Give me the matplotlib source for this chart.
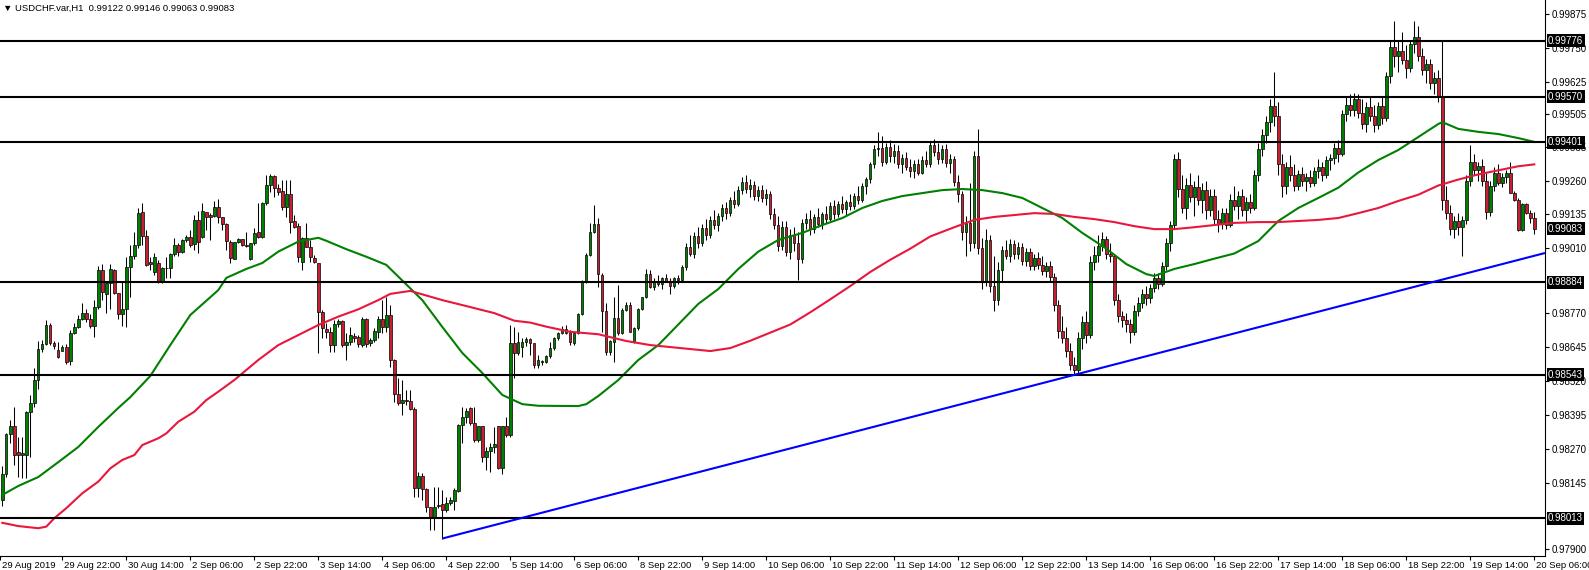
import matplotlib
matplotlib.use("Agg")
import matplotlib.pyplot as plt
import matplotlib.transforms as mtransforms
import numpy as np

plt.rcParams["font.family"] = ["Liberation Sans", "DejaVu Sans"]

# USDCHF H1 candles, prices in pips (0.0001), one line = 16 bars
OPEN = [
    9808.3, 9817.6, 9832.3, 9835.4, 9825.7, 9824.7, 9824.7, 9840.6, 9844.1, 9852.4, 9863.7, 9865.7, 9872.7, 9866.2, 9863.5, 9863.3,
    9864.6, 9859.5, 9869.6, 9871.8, 9874.9, 9877.0, 9875.1, 9872.3, 9879.4, 9893.0, 9884.0, 9888.1, 9893.0, 9884.7, 9876.6, 9878.6,
    9894.0, 9898.3, 9902.2, 9914.3, 9905.7, 9896.0, 9892.4, 9895.5, 9888.7, 9893.6, 9893.6, 9898.9, 9902.2, 9899.8, 9904.1, 9905.1,
    9902.5, 9911.5, 9905.3, 9914.3, 9913.3, 9913.1, 9916.1, 9912.4, 9909.9, 9903.2, 9897.1, 9903.2, 9904.3, 9902.2, 9896.9, 9902.8,
    9907.1, 9905.3, 9917.6, 9924.4, 9927.7, 9923.1, 9922.2, 9916.1, 9921.1, 9911.1, 9909.2, 9896.1, 9904.7, 9901.6, 9897.6, 9895.5,
    9877.6, 9871.2, 9870.3, 9865.3, 9872.9, 9874.3, 9865.3, 9866.3, 9868.8, 9868.4, 9865.3, 9874.8, 9865.9, 9867.2, 9870.3, 9875.1,
    9872.1, 9876.4, 9859.8, 9847.1, 9843.8, 9845.0, 9844.6, 9841.6, 9812.5, 9817.0, 9812.0, 9805.6, 9801.3, 9806.4, 9806.6, 9804.4,
    9806.9, 9807.8, 9811.6, 9835.8, 9838.6, 9841.9, 9836.4, 9830.2, 9835.4, 9824.1, 9826.2, 9827.8, 9835.4, 9819.8, 9835.4, 9832.1,
    9866.0, 9862.2, 9864.5, 9866.6, 9867.6, 9866.0, 9858.0, 9859.0, 9859.0, 9861.1, 9864.1, 9867.8, 9869.7, 9871.3, 9870.3, 9866.0,
    9869.7, 9876.7, 9888.7, 9898.6, 9906.9, 9909.9, 9891.2, 9877.9, 9862.7, 9866.6, 9875.2, 9869.7, 9878.3, 9880.1, 9866.3, 9871.5,
    9878.6, 9882.9, 9891.4, 9886.9, 9889.0, 9888.0, 9890.0, 9889.0, 9887.0, 9890.0, 9889.5, 9894.0, 9901.5, 9899.0, 9905.5, 9903.0,
    9908.5, 9906.0, 9911.5, 9909.5, 9913.0, 9916.0, 9914.0, 9919.0, 9917.5, 9922.5, 9925.5, 9923.0, 9924.5, 9920.5, 9922.5, 9919.5,
    9921.0, 9913.5, 9909.5, 9902.0, 9909.0, 9899.5, 9906.0, 9903.0, 9897.0, 9910.5, 9912.0, 9908.0, 9912.5, 9910.0, 9913.5, 9912.0,
    9916.5, 9913.5, 9917.5, 9915.5, 9918.0, 9916.5, 9920.5, 9919.0, 9924.0, 9926.5, 9932.0, 9937.5, 9938.0, 9933.0, 9938.5, 9935.0,
    9937.0, 9932.0, 9934.5, 9931.0, 9929.5, 9932.0, 9929.0, 9933.5, 9932.0, 9939.0, 9936.5, 9934.0, 9937.5, 9932.5, 9934.0, 9925.5,
    9921.0, 9907.0, 9910.5, 9903.0, 9935.0, 9901.0, 9889.0, 9904.0, 9887.0, 9882.0, 9893.0, 9900.5, 9898.0, 9902.5, 9899.0, 9901.5,
    9896.5, 9899.5, 9894.5, 9897.5, 9895.0, 9892.5, 9894.5, 9890.5, 9880.0, 9870.5, 9868.0, 9863.0, 9858.0, 9856.0, 9868.0, 9874.0,
    9869.0, 9896.0, 9898.5, 9902.0, 9904.5, 9899.0, 9898.0, 9882.0, 9876.0, 9874.5, 9873.0, 9870.0, 9878.0, 9881.0, 9884.0, 9882.5,
    9886.5, 9890.0, 9888.0, 9894.5, 9903.0, 9909.5, 9934.0, 9923.0, 9916.0, 9924.5, 9920.0, 9923.5, 9919.0, 9922.5, 9915.0, 9920.5,
    9912.0, 9910.0, 9914.0, 9909.5, 9919.0, 9916.5, 9920.5, 9915.0, 9918.0, 9916.0, 9928.0, 9937.5, 9943.0, 9947.5, 9953.5, 9950.0,
    9932.0, 9924.0, 9931.0, 9928.0, 9924.0, 9928.5, 9926.0, 9927.5, 9925.0, 9929.5, 9931.0, 9928.0, 9933.5, 9934.5, 9938.0, 9936.0,
    9950.5, 9954.0, 9952.0, 9956.0, 9951.0, 9947.0, 9953.0, 9950.0, 9946.5, 9953.5, 9949.0, 9964.5, 9975.5, 9972.0, 9974.0, 9970.5,
    9967.5, 9976.5, 9979.0, 9972.0, 9967.0, 9969.0, 9962.0, 9964.0, 9957.0, 9919.0, 9914.0, 9908.0, 9911.0, 9909.0, 9911.5, 9926.0,
    9933.0, 9930.0, 9931.5, 9926.0, 9914.5, 9924.0, 9929.0, 9925.0, 9927.5, 9928.7, 9921.6, 9918.9, 9907.8, 9917.4, 9914.0, 9912.2,
]
HIGH = [
    9820.6, 9832.9, 9837.6, 9842.3, 9831.2, 9831.2, 9841.0, 9846.8, 9856.7, 9866.9, 9867.1, 9874.5, 9873.5, 9866.9, 9866.5, 9865.3,
    9865.7, 9870.8, 9873.5, 9876.4, 9880.7, 9878.6, 9876.7, 9881.9, 9894.5, 9895.2, 9889.0, 9895.2, 9893.4, 9884.7, 9888.4, 9897.7,
    9902.2, 9907.2, 9915.8, 9917.6, 9907.8, 9897.9, 9899.2, 9896.7, 9894.2, 9897.9, 9899.4, 9904.7, 9902.9, 9904.5, 9905.9, 9907.8,
    9913.3, 9914.9, 9917.6, 9914.5, 9913.9, 9918.6, 9919.2, 9912.7, 9910.2, 9904.1, 9903.5, 9904.9, 9904.3, 9907.2, 9902.9, 9908.4,
    9917.6, 9918.2, 9928.1, 9928.4, 9928.0, 9924.7, 9926.2, 9926.2, 9926.2, 9913.3, 9910.2, 9905.3, 9910.2, 9904.1, 9898.5, 9895.5,
    9878.2, 9873.3, 9872.1, 9874.6, 9874.8, 9874.6, 9869.6, 9872.1, 9869.8, 9869.0, 9875.5, 9875.2, 9868.0, 9871.5, 9876.0, 9881.9,
    9883.2, 9880.1, 9860.0, 9853.0, 9852.4, 9848.7, 9848.7, 9842.5, 9818.6, 9818.0, 9812.4, 9805.6, 9813.0, 9813.0, 9811.8, 9809.3,
    9809.3, 9812.4, 9836.0, 9842.5, 9841.9, 9842.3, 9842.5, 9835.5, 9835.5, 9827.8, 9829.0, 9835.2, 9835.5, 9835.5, 9838.8, 9872.7,
    9872.0, 9870.2, 9868.0, 9868.4, 9867.8, 9866.0, 9861.7, 9859.8, 9861.7, 9866.6, 9868.4, 9870.3, 9872.5, 9872.7, 9870.9, 9870.3,
    9877.0, 9889.3, 9899.2, 9910.3, 9917.0, 9912.1, 9891.8, 9880.7, 9867.2, 9883.2, 9887.5, 9878.9, 9881.1, 9881.3, 9872.0, 9879.1,
    9883.2, 9893.4, 9893.0, 9890.0, 9891.0, 9890.5, 9891.5, 9890.0, 9890.5, 9891.0, 9895.0, 9903.0, 9906.0, 9907.0, 9909.0, 9910.0,
    9912.0, 9913.0, 9915.0, 9914.0, 9917.5, 9918.0, 9920.0, 9922.0, 9924.0, 9927.5, 9928.0, 9926.5, 9926.0, 9924.0, 9924.5, 9923.0,
    9922.0, 9916.0, 9913.0, 9911.0, 9911.0, 9908.0, 9909.0, 9907.0, 9912.0, 9914.0, 9915.0, 9913.5, 9916.0, 9914.5, 9916.5, 9918.0,
    9919.0, 9918.5, 9920.5, 9919.0, 9921.0, 9921.5, 9924.0, 9925.0, 9927.5, 9933.0, 9939.0, 9944.0, 9942.5, 9940.0, 9941.0, 9939.5,
    9939.0, 9936.0, 9936.5, 9934.0, 9933.5, 9934.0, 9935.0, 9937.0, 9940.5, 9941.5, 9940.0, 9939.0, 9939.5, 9936.0, 9935.0, 9928.0,
    9922.0, 9913.0, 9925.0, 9937.0, 9945.0, 9905.0, 9908.0, 9906.0, 9898.0, 9896.0, 9902.0, 9904.0, 9904.5, 9904.0, 9903.5, 9903.0,
    9901.0, 9901.0, 9899.0, 9899.5, 9898.0, 9896.0, 9896.5, 9892.0, 9882.0, 9876.0, 9872.0, 9866.0, 9861.0, 9870.0, 9876.0, 9878.0,
    9898.0, 9902.0, 9906.0, 9907.0, 9905.5, 9903.0, 9899.0, 9884.0, 9878.0, 9877.0, 9875.0, 9880.0, 9883.0, 9886.0, 9887.0, 9888.0,
    9892.0, 9892.0, 9896.0, 9905.0, 9911.0, 9936.0, 9936.5, 9928.0, 9927.0, 9929.0, 9926.0, 9928.0, 9925.0, 9926.0, 9923.0, 9923.0,
    9915.0, 9916.0, 9916.0, 9921.0, 9924.0, 9922.0, 9923.0, 9920.0, 9921.0, 9930.0, 9940.0, 9945.0, 9950.0, 9956.0, 9966.0, 9955.0,
    9936.0, 9933.0, 9935.5, 9932.0, 9930.0, 9931.0, 9929.0, 9930.0, 9931.0, 9934.0, 9933.0, 9935.0, 9936.0, 9940.0, 9941.0, 9952.0,
    9957.0, 9958.0, 9958.5, 9958.0, 9956.0, 9955.0, 9957.0, 9954.0, 9955.0, 9957.0, 9966.0, 9978.0, 9985.0, 9978.0, 9981.0, 9976.0,
    9978.0, 9985.0, 9983.0, 9975.0, 9971.0, 9971.0, 9966.0, 9967.0, 9978.0, 9924.0, 9917.0, 9913.0, 9914.0, 9913.0, 9928.0, 9939.0,
    9936.0, 9933.0, 9934.0, 9929.0, 9926.0, 9931.0, 9932.0, 9929.0, 9930.0, 9933.0, 9922.0, 9919.5, 9917.7, 9917.7, 9915.0, 9914.6,
]
LOW = [
    9806.0, 9816.7, 9829.0, 9821.0, 9816.7, 9816.4, 9816.1, 9824.1, 9842.5, 9849.1, 9862.8, 9865.3, 9865.3, 9863.9, 9860.5, 9863.1,
    9858.5, 9857.9, 9869.4, 9871.5, 9874.5, 9873.9, 9871.7, 9868.1, 9878.8, 9881.9, 9877.0, 9878.8, 9884.0, 9875.1, 9872.3, 9872.1,
    9882.9, 9897.0, 9901.0, 9902.2, 9894.5, 9893.0, 9891.2, 9888.1, 9888.1, 9889.9, 9890.0, 9898.0, 9898.0, 9899.2, 9903.5, 9901.6,
    9900.4, 9899.2, 9904.7, 9907.8, 9904.1, 9912.4, 9910.2, 9907.8, 9900.4, 9895.5, 9897.0, 9902.9, 9901.9, 9901.6, 9896.7, 9902.2,
    9904.7, 9904.7, 9917.0, 9921.9, 9920.1, 9920.7, 9915.1, 9912.7, 9906.5, 9908.4, 9896.1, 9893.0, 9901.4, 9896.1, 9895.5, 9862.3,
    9867.8, 9867.8, 9862.9, 9862.9, 9872.1, 9864.7, 9859.8, 9865.5, 9866.5, 9864.7, 9864.7, 9864.5, 9864.9, 9866.5, 9868.0, 9869.6,
    9870.3, 9857.3, 9844.4, 9843.2, 9839.5, 9843.2, 9841.3, 9809.3, 9809.3, 9808.1, 9803.8, 9797.0, 9797.0, 9805.0, 9793.9, 9803.8,
    9806.3, 9804.4, 9811.2, 9829.0, 9836.4, 9835.8, 9829.6, 9829.6, 9822.2, 9819.2, 9818.6, 9825.3, 9819.5, 9817.9, 9831.5, 9831.5,
    9853.0, 9861.5, 9861.0, 9865.0, 9861.7, 9857.0, 9857.0, 9858.0, 9858.6, 9860.4, 9863.5, 9867.2, 9869.3, 9869.3, 9865.4, 9865.4,
    9869.3, 9876.4, 9888.1, 9898.0, 9906.6, 9886.9, 9870.3, 9861.7, 9861.7, 9859.2, 9869.1, 9869.3, 9877.9, 9870.3, 9866.0, 9871.0,
    9878.3, 9882.6, 9886.3, 9885.5, 9887.0, 9886.0, 9888.5, 9884.0, 9886.5, 9888.0, 9889.0, 9893.0, 9898.0, 9897.5, 9901.0, 9902.0,
    9904.0, 9905.0, 9908.0, 9907.5, 9911.0, 9912.0, 9913.0, 9916.0, 9916.5, 9921.0, 9921.5, 9920.0, 9919.0, 9918.5, 9918.0, 9917.0,
    9912.0, 9908.0, 9900.0, 9900.5, 9898.0, 9897.0, 9900.0, 9889.5, 9895.5, 9908.0, 9906.0, 9906.5, 9909.0, 9908.0, 9910.5, 9911.0,
    9912.0, 9912.5, 9914.0, 9913.0, 9915.0, 9915.5, 9917.5, 9918.0, 9921.0, 9925.0, 9930.5, 9935.0, 9931.5, 9932.0, 9933.0, 9932.5,
    9930.5, 9929.0, 9930.0, 9927.5, 9927.0, 9928.0, 9928.5, 9931.0, 9931.0, 9935.0, 9932.0, 9932.5, 9931.0, 9929.0, 9924.0, 9918.0,
    9904.0, 9898.0, 9900.0, 9901.0, 9899.0, 9886.0, 9887.0, 9885.0, 9878.0, 9880.0, 9889.0, 9897.0, 9896.0, 9897.0, 9897.0, 9895.0,
    9894.5, 9893.0, 9893.0, 9893.5, 9891.0, 9890.5, 9889.0, 9878.0, 9868.0, 9866.0, 9861.0, 9856.0, 9854.3, 9855.0, 9864.0, 9866.0,
    9868.0, 9893.0, 9896.0, 9900.0, 9897.0, 9896.0, 9880.0, 9874.0, 9872.0, 9870.0, 9866.0, 9869.0, 9876.0, 9879.0, 9880.0, 9881.0,
    9885.0, 9886.0, 9887.0, 9893.0, 9900.0, 9908.0, 9920.0, 9914.0, 9912.0, 9918.0, 9913.0, 9917.0, 9914.0, 9912.0, 9913.0, 9910.0,
    9907.0, 9908.0, 9908.0, 9909.0, 9915.0, 9912.0, 9913.0, 9911.0, 9914.0, 9915.0, 9926.0, 9935.0, 9940.0, 9944.0, 9946.0, 9928.0,
    9920.0, 9921.0, 9926.0, 9922.0, 9922.5, 9924.0, 9922.0, 9923.5, 9924.0, 9927.0, 9926.0, 9927.0, 9930.0, 9932.0, 9933.0, 9935.0,
    9948.0, 9950.0, 9950.0, 9949.0, 9945.0, 9944.0, 9948.0, 9944.0, 9945.0, 9947.0, 9948.0, 9962.0, 9968.0, 9966.0, 9969.0, 9964.0,
    9966.0, 9973.0, 9970.0, 9965.0, 9962.0, 9960.0, 9958.0, 9955.0, 9915.0, 9912.0, 9906.0, 9905.0, 9906.0, 9898.0, 9910.0, 9924.0,
    9928.0, 9926.0, 9924.0, 9912.0, 9913.0, 9922.0, 9924.5, 9923.5, 9925.0, 9921.4, 9918.5, 9907.5, 9907.5, 9913.5, 9910.5, 9906.3,
]
CLOSE = [
    9817.6, 9832.3, 9835.4, 9824.7, 9824.7, 9825.3, 9840.6, 9844.1, 9852.4, 9863.7, 9865.7, 9872.7, 9866.2, 9865.1, 9860.8, 9864.6,
    9859.2, 9869.6, 9871.8, 9874.9, 9877.0, 9875.1, 9872.3, 9879.4, 9893.0, 9885.0, 9888.1, 9893.3, 9884.4, 9876.6, 9878.6, 9894.0,
    9898.3, 9902.2, 9914.2, 9905.7, 9894.9, 9895.1, 9897.9, 9888.7, 9893.6, 9893.7, 9898.9, 9902.2, 9899.8, 9904.1, 9905.1, 9902.2,
    9911.5, 9903.5, 9914.8, 9912.4, 9912.4, 9916.1, 9912.4, 9909.9, 9903.8, 9897.3, 9903.2, 9904.3, 9902.2, 9902.0, 9902.8, 9906.8,
    9905.3, 9917.6, 9924.4, 9927.7, 9923.1, 9921.9, 9916.1, 9921.1, 9910.6, 9909.0, 9897.9, 9904.7, 9901.6, 9897.9, 9896.1, 9877.6,
    9871.5, 9870.3, 9865.3, 9872.9, 9874.3, 9865.3, 9866.3, 9869.0, 9867.8, 9865.7, 9874.9, 9865.7, 9867.2, 9870.5, 9875.1, 9872.1,
    9876.4, 9859.8, 9847.1, 9843.8, 9845.0, 9844.6, 9841.6, 9812.7, 9817.0, 9812.0, 9805.4, 9801.3, 9805.6, 9806.0, 9804.4, 9806.9,
    9808.3, 9811.8, 9835.8, 9838.8, 9840.9, 9836.4, 9830.2, 9835.4, 9824.1, 9826.2, 9827.8, 9828.8, 9819.8, 9835.4, 9832.1, 9866.0,
    9862.2, 9866.5, 9866.6, 9867.6, 9866.0, 9858.0, 9859.9, 9859.5, 9861.3, 9864.1, 9867.8, 9869.7, 9871.3, 9869.7, 9866.3, 9869.7,
    9876.7, 9888.7, 9898.6, 9906.9, 9909.9, 9891.4, 9877.7, 9862.9, 9866.8, 9875.2, 9869.7, 9878.3, 9880.1, 9870.3, 9871.5, 9878.6,
    9882.9, 9891.4, 9886.9, 9889.0, 9888.0, 9890.0, 9889.0, 9887.0, 9890.0, 9889.5, 9894.0, 9901.5, 9899.0, 9905.5, 9903.0, 9908.5,
    9906.0, 9911.5, 9909.5, 9913.0, 9916.0, 9914.0, 9919.0, 9917.5, 9922.5, 9925.5, 9923.0, 9924.5, 9920.5, 9922.5, 9919.5, 9921.0,
    9913.5, 9909.5, 9902.0, 9909.0, 9899.5, 9906.0, 9903.0, 9897.0, 9910.5, 9912.0, 9908.0, 9912.5, 9910.0, 9913.5, 9912.0, 9916.5,
    9913.5, 9917.5, 9915.5, 9918.0, 9916.5, 9920.5, 9919.0, 9924.0, 9926.5, 9932.0, 9937.5, 9938.0, 9933.0, 9938.5, 9935.0, 9937.0,
    9932.0, 9934.5, 9931.0, 9929.5, 9932.0, 9929.0, 9933.5, 9932.0, 9939.0, 9936.5, 9934.0, 9937.5, 9932.5, 9934.0, 9925.5, 9921.0,
    9907.0, 9910.5, 9903.0, 9935.0, 9901.0, 9889.0, 9904.0, 9887.0, 9882.0, 9893.0, 9900.5, 9898.0, 9902.5, 9899.0, 9901.5, 9896.5,
    9899.5, 9894.5, 9897.5, 9895.0, 9892.5, 9894.5, 9890.5, 9880.0, 9870.5, 9868.0, 9863.0, 9858.0, 9856.0, 9868.0, 9874.0, 9869.0,
    9896.0, 9898.5, 9902.0, 9904.5, 9899.0, 9898.0, 9882.0, 9876.0, 9874.5, 9873.0, 9870.0, 9878.0, 9881.0, 9884.0, 9882.5, 9886.5,
    9890.0, 9888.0, 9894.5, 9903.0, 9909.5, 9934.0, 9923.0, 9916.0, 9924.5, 9920.0, 9923.5, 9919.0, 9922.5, 9915.0, 9920.5, 9912.0,
    9910.0, 9914.0, 9909.5, 9919.0, 9916.5, 9920.5, 9915.0, 9918.0, 9916.0, 9928.0, 9937.5, 9943.0, 9947.5, 9953.5, 9950.0, 9932.0,
    9924.0, 9931.0, 9928.0, 9924.0, 9928.5, 9926.0, 9927.5, 9925.0, 9929.5, 9931.0, 9928.0, 9933.5, 9934.5, 9938.0, 9936.0, 9950.5,
    9954.0, 9952.0, 9956.0, 9951.0, 9947.0, 9953.0, 9950.0, 9946.5, 9953.5, 9949.0, 9964.5, 9975.5, 9972.0, 9974.0, 9970.5, 9967.5,
    9976.5, 9979.0, 9972.0, 9967.0, 9969.0, 9962.0, 9964.0, 9957.0, 9919.0, 9914.0, 9908.0, 9911.0, 9909.0, 9911.5, 9926.0, 9933.0,
    9930.0, 9931.5, 9926.0, 9914.5, 9924.0, 9929.0, 9925.0, 9927.5, 9928.7, 9921.6, 9918.9, 9907.8, 9917.4, 9914.0, 9912.2, 9908.3,
]

# moving averages (bar index, value in pips)
FAST_MA_BARS = [0, 4, 9, 14, 19, 24, 29, 32, 37, 42, 47, 54, 56, 61, 65, 69, 74, 79, 81, 86,
                91, 96, 105, 110, 115, 120, 125, 130, 134, 144, 146, 149, 154, 159, 164, 169, 174, 179, 184, 189,
                194, 200, 205, 210, 215, 220, 225, 230, 235, 240, 245, 250, 255, 260, 265, 270, 276, 281, 286, 288,
                293, 298, 303, 308, 314, 319, 324, 329, 334, 339, 344, 349, 354, 359, 360, 364, 369, 374, 379, 383]
FAST_MA = [9810.0, 9813.3, 9816.6, 9822.1, 9827.7, 9835.1, 9842.1, 9846.1, 9853.9, 9865.3,
           9876.4, 9885.6, 9890.1, 9893.4, 9895.6, 9899.8, 9903.5, 9904.9, 9903.8, 9900.7,
           9897.9, 9894.9, 9881.9, 9872.0, 9862.4, 9855.0, 9846.9, 9843.5, 9842.9, 9842.8,
           9843.5, 9846.5, 9852.4, 9859.8, 9865.3, 9872.9, 9880.5, 9886.0, 9893.4, 9899.8,
           9904.1, 9906.7, 9909.6, 9912.2, 9915.9, 9918.5, 9920.3, 9921.4, 9922.5, 9922.9,
           9922.5, 9921.4, 9919.6, 9915.9, 9912.2, 9906.7, 9900.9, 9895.2, 9891.5, 9890.8,
           9893.4, 9895.2, 9897.2, 9899.1, 9903.7, 9911.1, 9915.9, 9919.6, 9923.4, 9929.0,
           9933.6, 9937.3, 9942.1, 9946.9, 9947.6, 9945.1, 9944.0, 9943.2, 9941.7, 9940.3]
SLOW_MA_BARS = [0, 4, 9, 11, 13, 16, 20, 24, 27, 30, 33, 35, 39, 41, 44, 48, 51, 54, 58, 64,
                69, 74, 79, 84, 89, 94, 97, 102, 110, 116, 123, 128, 132, 136, 142, 149, 156, 162, 177, 182,
                187, 192, 197, 202, 207, 212, 217, 222, 227, 232, 238, 243, 248, 253, 258, 263, 268, 273, 278, 283,
                288, 293, 298, 303, 308, 314, 319, 324, 329, 334, 339, 344, 349, 354, 359, 364, 369, 374, 379, 383]
SLOW_MA = [9799.7, 9798.5, 9797.7, 9798.3, 9801.4, 9805.1, 9810.6, 9814.9, 9819.8, 9822.9,
           9824.7, 9828.4, 9830.9, 9832.7, 9837.0, 9840.7, 9845.0, 9848.1, 9852.4, 9859.8,
           9865.3, 9869.0, 9872.7, 9875.8, 9878.5, 9881.9, 9884.2, 9885.3, 9881.9, 9879.7,
           9877.1, 9874.3, 9873.6, 9872.1, 9870.2, 9869.3, 9866.8, 9865.3, 9863.1, 9864.2,
           9866.9, 9869.9, 9872.9, 9877.4, 9882.2, 9887.1, 9892.3, 9896.8, 9900.9, 9905.4,
           9908.8, 9911.5, 9912.6, 9913.3, 9914.0, 9913.7, 9912.6, 9911.8, 9910.7, 9909.2,
           9908.1, 9908.1, 9908.8, 9909.6, 9910.4, 9910.7, 9910.7, 9911.1, 9911.5, 9912.2,
           9914.0, 9915.9, 9918.5, 9920.8, 9924.2, 9926.4, 9928.3, 9929.8, 9931.3, 9932.0]

LEVELS = [0.99776, 0.99570, 0.99401, 0.98884, 0.98543, 0.98013]
TREND_BARS = [110, 268]
TREND_PRICES = [0.97939, 0.98543]

Y_TICKS = [0.99875, 0.99750, 0.99625, 0.99505, 0.99385, 0.99260, 0.99135, 0.99010,
           0.98770, 0.98645, 0.98520, 0.98395, 0.98270, 0.98145, 0.97900]
X_LABELS = ["29 Aug 2019", "29 Aug 22:00", "30 Aug 14:00", "2 Sep 06:00", "2 Sep 22:00",
            "3 Sep 14:00", "4 Sep 06:00", "4 Sep 22:00", "5 Sep 14:00", "6 Sep 06:00",
            "8 Sep 22:00", "9 Sep 14:00", "10 Sep 06:00", "10 Sep 22:00", "11 Sep 14:00",
            "12 Sep 06:00", "12 Sep 22:00", "13 Sep 14:00", "16 Sep 06:00", "16 Sep 22:00",
            "17 Sep 14:00", "18 Sep 06:00", "18 Sep 22:00", "19 Sep 14:00", "20 Sep 06:00"]
SYMBOL = "USDCHF.var,H1"

BULL = "#008000"
BEAR = "#C62030"
FS = 7.0

o = np.array(OPEN) / 1e4
h = np.array(HIGH) / 1e4
l = np.array(LOW) / 1e4
c = np.array(CLOSE) / 1e4
x = np.arange(len(c))

W, H = 1589, 570
plot_w, plot_h = 1545, 556
fig = plt.figure(figsize=(W / 100, H / 100), dpi=100)
ax = fig.add_axes([0, (H - plot_h) / H, plot_w / W, plot_h / H])

x0 = -0.575
ax.set_xlim(x0, x0 + plot_w / 4)
ax.set_ylim(0.978745, 0.999267)

# candles
ax.vlines(x, l, h, color="black", linewidth=0.75, zorder=2)
cols = np.where(c >= o, BULL, BEAR)
ax.bar(x, np.abs(c - o), bottom=np.minimum(o, c), width=0.6, color=cols,
       edgecolor="black", linewidth=0.5, zorder=2.1)

# moving averages
ax.plot(FAST_MA_BARS, np.array(FAST_MA) / 1e4, color="#008000", linewidth=1.5, zorder=3)
ax.plot(SLOW_MA_BARS, np.array(SLOW_MA) / 1e4, color="#E8173C", linewidth=1.5, zorder=3)

# support / resistance levels
for lv in LEVELS:
    ax.axhline(lv, color="black", linewidth=1.5, zorder=4)

# trend ray
slope = (TREND_PRICES[1] - TREND_PRICES[0]) / (TREND_BARS[1] - TREND_BARS[0])
x_end = ax.get_xlim()[1]
ax.plot([TREND_BARS[0], x_end], [TREND_PRICES[0], TREND_PRICES[0] + slope * (x_end - TREND_BARS[0])],
        color="#0000FF", linewidth=1.5, zorder=4, solid_capstyle="butt")

# axes styling
for side in ["top", "left"]:
    ax.spines[side].set_visible(False)
for side in ["right", "bottom"]:
    ax.spines[side].set_linewidth(0.8)
    ax.spines[side].set_color("black")

ax.yaxis.tick_right()
ax.set_yticks(Y_TICKS)
ax.set_yticklabels([f"{v:.5f}" for v in Y_TICKS])
ax.tick_params(axis="y", length=3, width=0.8, pad=1.5, labelsize=FS, direction="out")

xt = [16 * k - 1 for k in range(len(X_LABELS))]
xt[0] = x0 + 0.01
ax.set_xticks(xt)
ax.set_xticklabels(X_LABELS)
ax.tick_params(axis="x", length=3, width=0.8, pad=0.5, labelsize=6.8, direction="out")
shift = mtransforms.ScaledTranslation(2 / 100, 0, fig.dpi_scale_trans)
for lab in ax.get_xticklabels():
    lab.set_horizontalalignment("left")
    lab.set_transform(lab.get_transform() + shift)

# price boxes on the right scale
box_tr = mtransforms.blended_transform_factory(ax.transAxes, ax.transData)
for lv in LEVELS + [c[-1]]:
    ax.text(1 + 3 / plot_w, lv, f"{lv:.5f}", transform=box_tr, ha="left", va="center",
            fontsize=FS, color="white", clip_on=False, zorder=6,
            bbox=dict(boxstyle="square,pad=0.15", fc="black", ec="none"))

title = f"\u25BC {SYMBOL}  {o[-1]:.5f} {h[-1]:.5f} {l[-1]:.5f} {c[-1]:.5f}"
ax.text(3 / plot_w, 1 - 8 / plot_h, title, transform=ax.transAxes, ha="left", va="center",
        fontsize=6.8, color="black", zorder=6)

fig.savefig("out.png", dpi=100, facecolor="white")
